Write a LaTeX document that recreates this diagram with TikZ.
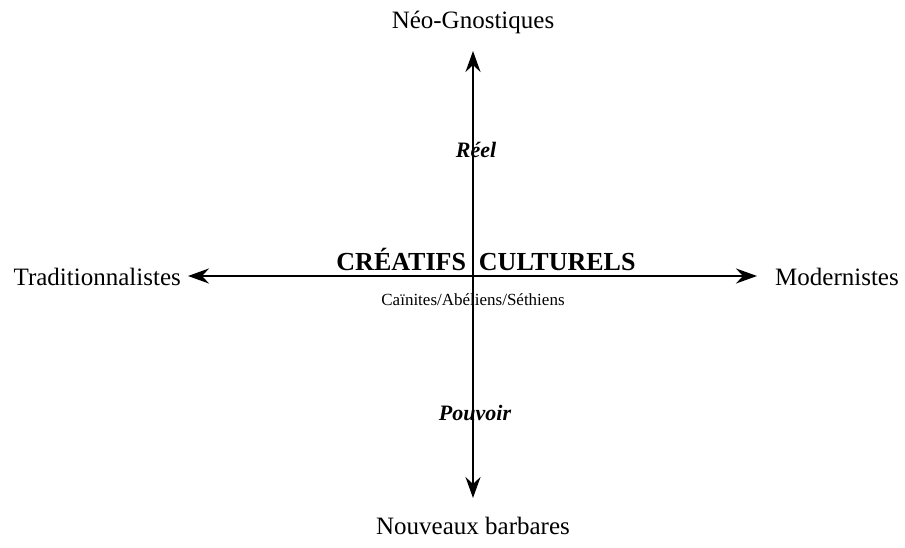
\documentclass[tikz,border=0pt]{standalone}
\usepackage{fontspec}
\setmainfont{Liberation Serif}
\usetikzlibrary{arrows.meta}
\begin{document}
\begin{tikzpicture}[x=1pt,y=-1pt,
  lab/.style={font=\fontsize{25}{28}\selectfont, inner sep=0pt},
  axis/.style={line width=2.6pt, -{Stealth[length=21pt,width=15pt,inset=7pt]}}]
\useasboundingbox (0,0) rectangle (905,548);
% labels
\node[lab] (ng) at (473,22) {Néo-Gnostiques};
\node[lab] (nb) at (473,526) {Nouveaux barbares};
\node[lab, anchor=east] (tr) at (181,277) {Traditionnalistes};
\node[lab, anchor=west] (mo) at (775,277) {Modernistes};
\node[font=\fontsize{26}{29}\selectfont\bfseries, inner sep=0pt] (cc) at (486,259) {CRÉATIFS\ \ CULTURELS};
\node[font=\fontsize{17}{20}\selectfont, inner sep=0pt] (ca) at (473,300) {Caïnites/Abéliens/Séthiens};
\node[font=\fontsize{22}{25}\selectfont\bfseries\itshape, inner sep=0pt] (re) at (476,150) {Réel};
\node[font=\fontsize{22}{25}\selectfont\bfseries\itshape, inner sep=0pt] (po) at (475,413) {Pouvoir};
% axes
\coordinate (o) at (473,276);
\coordinate (top) at (473,51);
\coordinate (bot) at (473,498);
\coordinate (lft) at (188,276);
\coordinate (rgt) at (757,276);
\draw[axis] (o) -- (top);
\draw[axis] (o) -- (bot);
\draw[axis] (o) -- (lft);
\draw[axis] (o) -- (rgt);
\end{tikzpicture}
\end{document}
